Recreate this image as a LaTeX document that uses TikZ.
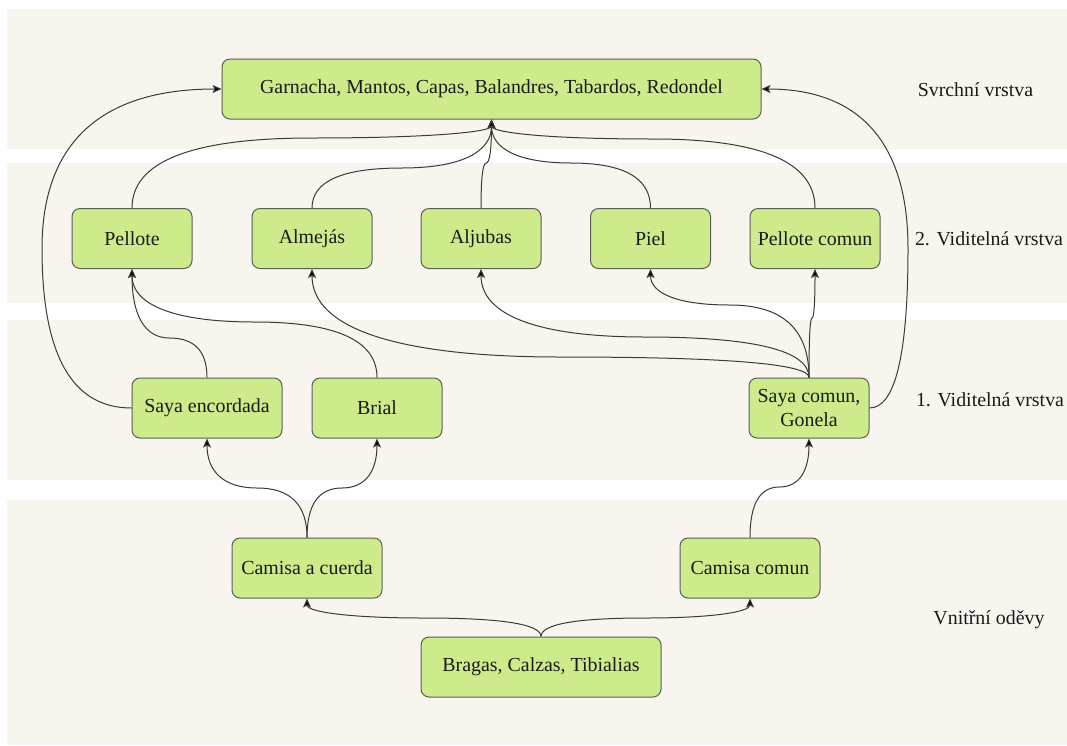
\documentclass[tikz,border=0pt]{standalone}
\usepackage{fontspec}
\setmainfont{Liberation Serif}
\usetikzlibrary{calc,arrows.meta}

\definecolor{bandcol}{HTML}{F7F5EE}
\definecolor{boxfill}{HTML}{CDEB8B}
\definecolor{boxline}{HTML}{5A5E5A}
\definecolor{linkcol}{HTML}{3A3A3A}
\definecolor{txtcol}{HTML}{1A1A1A}

\tikzset{
  band/.style={fill=bandcol, draw=none},
  garment/.style={draw=boxline, fill=boxfill, rounded corners=8pt, line width=1pt,
    minimum height=60pt, inner sep=0pt, align=center, text=txtcol,
    font=\fontsize{19.9}{24}\selectfont},
  layerlabel/.style={text=txtcol, inner sep=0pt, font=\fontsize{19.9}{24}\selectfont},
  link/.style={draw=linkcol, line width=1pt,
    -{Stealth[length=9pt,width=8pt,inset=2pt,fill=black]}},
}

% vertical link: leaves #1 upwards, runs horizontally at height #3, enters #2 vertically
\newcommand\vlink[3]{%
  \coordinate (yy) at (0,#3);
  \coordinate (c1) at (#1 |- yy);
  \coordinate (c2) at (#2 |- yy);
  \coordinate (mm) at ($(c1)!.5!(c2)$);
  \draw[link] (#1) .. controls ($(#1)!2/3!(c1)$) and ($(mm)!2/3!(c1)$) .. (mm)
     .. controls ($(mm)!2/3!(c2)$) and ($(#2)!2/3!(c2)$) .. (#2);
}
% side link: leaves #1 sideways, runs vertically at abscissa #3, enters #2 sideways
\newcommand\hlink[3]{%
  \coordinate (xx) at (#3,0);
  \coordinate (c1) at (xx |- #1);
  \coordinate (c2) at (xx |- #2);
  \coordinate (mm) at ($(c1)!.5!(c2)$);
  \draw[link] (#1) .. controls ($(#1)!2/3!(c1)$) and ($(mm)!2/3!(c1)$) .. (mm)
     .. controls ($(mm)!2/3!(c2)$) and ($(#2)!2/3!(c2)$) .. (#2);
}

\begin{document}
\begin{tikzpicture}[x=1pt, y=-1pt]
  \useasboundingbox (0,0) rectangle (1067,745);
  \fill[white] (0,0) rectangle (1067,745);

  % layer bands
  \fill[band] (7,9)   rectangle (1067,149);
  \fill[band] (7,163) rectangle (1067,303);
  \fill[band] (7,320) rectangle (1067,480);
  \fill[band] (7,500) rectangle (1067,745);

  % layer labels
  \node[layerlabel] (lTop)  at (975.5,90)  {Svrchní vrstva};
  \node[layerlabel] (lVis2) at (989,239)   {2. Viditelná vrstva};
  \node[layerlabel] (lVis1) at (990,400)   {1. Viditelná vrstva};
  \node[layerlabel] (lIn)   at (989,620)   {Vnitřní oděvy};

  % garments
  \node[garment, minimum width=539pt] (garn) at (491.5,89) {Garnacha, Mantos, Capas, Balandres, Tabardos, Redondel};

  \node[garment, minimum width=120pt] (pel)  at (132,238.5)   {Pellote};
  \node[garment, minimum width=120pt] (alm)  at (312,238.5)   {Almejás};
  \node[garment, minimum width=120pt] (alj)  at (481,238.5)   {Aljubas};
  \node[garment, minimum width=120pt] (piel) at (650.5,238.5) {Piel};
  \node[garment, minimum width=130pt] (pelc) at (815,238.5)   {Pellote comun};

  \node[garment, minimum width=150pt] (saye)  at (207,408) {Saya encordada};
  \node[garment, minimum width=130pt] (brial) at (377,408) {Brial};
  \node[garment, minimum width=120pt] (sayc)  at (809,408) {Saya comun,\\Gonela};

  \node[garment, minimum width=150pt] (camc) at (307,568) {Camisa a cuerda};
  \node[garment, minimum width=140pt] (camo) at (750,568) {Camisa comun};

  \node[garment, minimum width=240pt] (brag) at (541,667) {Bragas, Calzas, Tibialias};

  % links into the outer layer
  \vlink{pel.north}{garn.south}{138}
  \vlink{alm.north}{garn.south}{168}
  \vlink{alj.north}{garn.south}{163}
  \vlink{piel.north}{garn.south}{163}
  \vlink{pelc.north}{garn.south}{139}
  \hlink{saye.west}{garn.west}{42}
  \hlink{sayc.east}{garn.east}{908}

  % links into the second visible layer
  \vlink{saye.north}{pel.south}{338}
  \vlink{brial.north}{pel.south}{322}
  \vlink{sayc.north}{alm.south}{357}
  \vlink{sayc.north}{alj.south}{337}
  \vlink{sayc.north}{piel.south}{305}
  \vlink{sayc.north}{pelc.south}{318}

  % links into the first visible layer
  \vlink{camc.north}{saye.south}{488}
  \vlink{camc.north}{brial.south}{488}
  \vlink{camo.north}{sayc.south}{487}

  % links from the undergarments
  \vlink{brag.north}{camc.south}{618}
  \vlink{brag.north}{camo.south}{618}
\end{tikzpicture}
\end{document}
